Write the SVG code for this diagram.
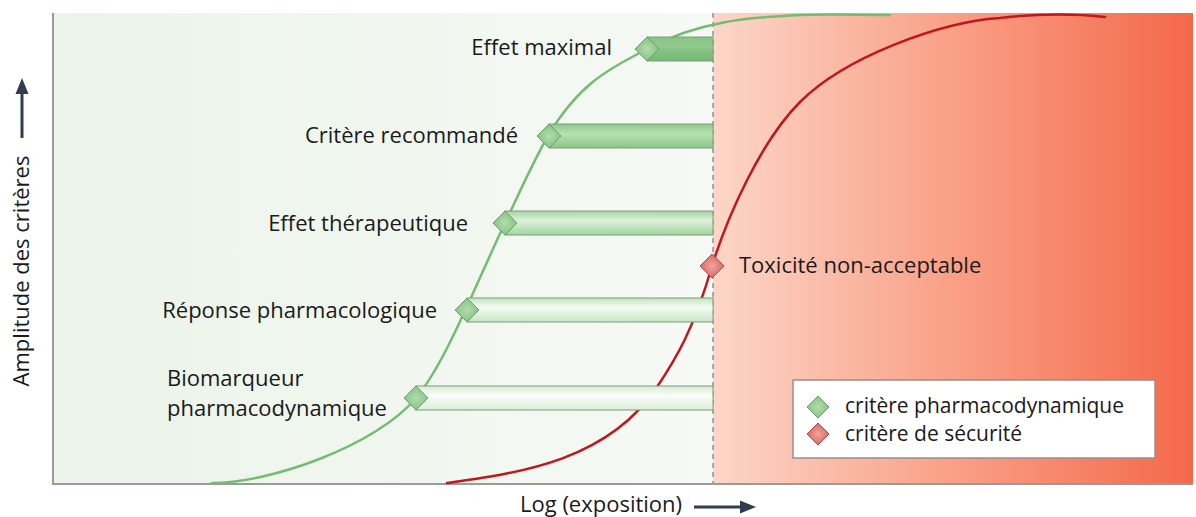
<svg xmlns="http://www.w3.org/2000/svg" width="1196" height="517" viewBox="0 0 1196 517">
<style>
.lbl{font-family:"Open Sans","Liberation Sans",sans-serif;font-size:22px;fill:#1a1a1a}
.leg{font-family:"Open Sans","Liberation Sans",sans-serif;font-size:21px;fill:#1a1a1a}
.bar{stroke:#7f9c7d;stroke-width:1}
.gd{fill:url(#gDia);stroke:#6b9e69;stroke-width:1}
.rd{fill:url(#rDia);stroke:#b24a48;stroke-width:1}
.ax{fill:#2f3d4c}
</style>
<defs>
<linearGradient id="bgG" x1="0" y1="0" x2="1" y2="0">
<stop offset="0" stop-color="#ebf4e9"/>
<stop offset="1" stop-color="#f6f9f5"/>
</linearGradient>
<linearGradient id="bgR" x1="0" y1="0" x2="1" y2="0">
<stop offset="0" stop-color="#fcd6c8"/>
<stop offset="0.5" stop-color="#f9a086"/>
<stop offset="1" stop-color="#f4684a"/>
</linearGradient>
<linearGradient id="b1" x1="0" y1="0" x2="0" y2="1">
<stop offset="0" stop-color="#86c584"/>
<stop offset="0.35" stop-color="#8fca8c"/>
<stop offset="1" stop-color="#74b872"/>
</linearGradient>
<linearGradient id="b2" x1="0" y1="0" x2="0" y2="1">
<stop offset="0" stop-color="#8cc98a"/>
<stop offset="0.4" stop-color="#b9e0b6"/>
<stop offset="1" stop-color="#8ac788"/>
</linearGradient>
<linearGradient id="b3" x1="0" y1="0" x2="0" y2="1">
<stop offset="0" stop-color="#a3d5a0"/>
<stop offset="0.4" stop-color="#def1dc"/>
<stop offset="1" stop-color="#a2d49f"/>
</linearGradient>
<linearGradient id="b4" x1="0" y1="0" x2="0" y2="1">
<stop offset="0" stop-color="#c3e3c0"/>
<stop offset="0.4" stop-color="#f5fbf4"/>
<stop offset="1" stop-color="#c6e4c3"/>
</linearGradient>
<linearGradient id="b5" x1="0" y1="0" x2="0" y2="1">
<stop offset="0" stop-color="#d6ecd4"/>
<stop offset="0.4" stop-color="#fbfdfa"/>
<stop offset="1" stop-color="#d9eed7"/>
</linearGradient>
<radialGradient id="gDia" cx="0.5" cy="0.5" r="0.6">
<stop offset="0" stop-color="#b2dcae"/>
<stop offset="1" stop-color="#7fbf7c"/>
</radialGradient>
<radialGradient id="rDia" cx="0.5" cy="0.5" r="0.6">
<stop offset="0" stop-color="#f2a39c"/>
<stop offset="1" stop-color="#d45e5a"/>
</radialGradient>
</defs>

<g id="background">
<rect x="53" y="13" width="660" height="471" fill="url(#bgG)"/>
<rect x="713" y="13" width="480" height="471" fill="url(#bgR)"/>
<line x1="713" y1="13" x2="713" y2="484" stroke="#7a7a7a" stroke-width="1.2" stroke-dasharray="5,4"/>
<path d="M53,13 V484 H1193" fill="none" stroke="#9a9a9a" stroke-width="2"/>
</g>

<g id="axes">
<rect class="ax" x="20.5" y="92" width="3" height="46"/>
<path class="ax" d="M15.5,94 L22,78 L28.5,94 z"/>
<text class="lbl" transform="translate(29,271) rotate(-90)" text-anchor="middle">Amplitude des critères</text>
<rect class="ax" x="694" y="505.5" width="48" height="3"/>
<path class="ax" d="M740,500.5 L756,507 L740,513.5 z"/>
<text class="lbl" x="520" y="512">Log (exposition)</text>
</g>

<g id="connectors" fill="none" stroke-width="2.5" stroke-linecap="round">
<path id="pd-curve" stroke="#74bc72" d="M212,483 C270,483 376,446 416,398 C446,362 475,286 505,223 C519.3,193 533.7,160.3 548,136 C581,80 614,67 647,49 C698,21 749,17.5 800,15 C830,13.5 860,15 890,15"/>
<path id="tox-curve" stroke="#c0171e" d="M447,483 C517,473 607,462 657,387 C675.3,359.5 693.7,330 712,266 C727,218 760,142 800,102 C845,57 940,22 1000,18 C1040,13 1080,14 1105,17"/>
</g>

<g id="node-effet-maximal">
<rect class="bar" x="647" y="37" width="66" height="24" fill="url(#b1)"/>
<path class="gd" d="M647,37 L659,49 L647,61 L635,49 z"/>
<text class="lbl" x="612" y="55" text-anchor="end">Effet maximal</text>
</g>
<g id="node-critere-recommande">
<rect class="bar" x="549" y="124" width="164" height="24" fill="url(#b2)"/>
<path class="gd" d="M549,124 L561,136 L549,148 L537,136 z"/>
<text class="lbl" x="518" y="143" text-anchor="end">Critère recommandé</text>
</g>
<g id="node-effet-therapeutique">
<rect class="bar" x="505" y="211" width="208" height="24" fill="url(#b3)"/>
<path class="gd" d="M505,211 L517,223 L505,235 L493,223 z"/>
<text class="lbl" x="468" y="231" text-anchor="end">Effet thérapeutique</text>
</g>
<g id="node-reponse-pharmacologique">
<rect class="bar" x="467" y="298" width="246" height="24" fill="url(#b4)"/>
<path class="gd" d="M467,298 L479,310 L467,322 L455,310 z"/>
<text class="lbl" x="437" y="318" text-anchor="end">Réponse pharmacologique</text>
</g>
<g id="node-biomarqueur">
<rect class="bar" x="416" y="386" width="297" height="24" fill="url(#b5)"/>
<path class="gd" d="M416,386 L428,398 L416,410 L404,398 z"/>
<text class="lbl" x="167" y="386">Biomarqueur</text>
<text class="lbl" x="167" y="416">pharmacodynamique</text>
</g>
<g id="node-toxicite">
<path class="rd" d="M712,254 L724,266 L712,278 L700,266 z"/>
<text class="lbl" x="739" y="273">Toxicité non-acceptable</text>
</g>

<g id="legend">
<rect x="793" y="380" width="362" height="78" fill="#ffffff" stroke="#9c8c8a" stroke-width="1.5"/>
<path class="gd" d="M818,396 L829,407 L818,418 L807,407 z"/>
<text class="leg" x="845" y="413">critère pharmacodynamique</text>
<path class="rd" d="M818,423 L829,434 L818,445 L807,434 z"/>
<text class="leg" x="845" y="441">critère de sécurité</text>
</g>
</svg>
